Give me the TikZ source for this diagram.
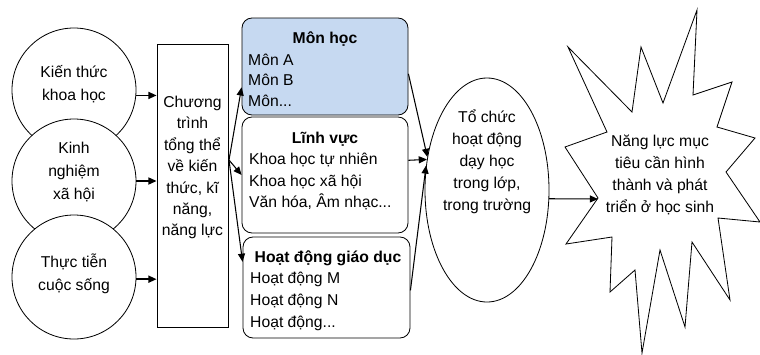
\documentclass[tikz,border=0pt]{standalone}
\usepackage{fontspec}
\setmainfont{Liberation Sans}
\usetikzlibrary{arrows.meta,shapes.geometric}

\definecolor{subjblue}{HTML}{C6D9F1}

\tikzset{
  txt/.style={font=\fontsize{13.4}{#1}\selectfont, align=center, inner sep=0pt},
  txt/.default=18.5pt,
  srcball/.style={draw, line width=0.7pt, fill=white, circle, minimum size=3.72cm, inner sep=0pt},
  topicbox/.style={draw, line width=0.7pt, rounded corners=0.3cm, minimum width=4.98cm},
  item/.style={font=\fontsize{13.4}{16}\selectfont, anchor=base west, inner sep=0pt},
  head/.style={font=\fontsize{13.4}{16}\selectfont\bfseries, anchor=base, inner sep=0pt},
  arr/.style={-{Triangle[length=7pt,width=6pt]}, line width=#1},
  arr/.default=0.9pt
}

\begin{document}
\begin{tikzpicture}[x=0.03cm, y=-0.03cm]
  \useasboundingbox (0,0) rectangle (760,354);

  % three sources, each drawn over the previous one
  \node[srcball] (kt) at (74,90) {};
  \node[srcball] (kn) at (74,181) {};
  \node[srcball] (tt) at (74,277) {};
  \node[txt=20pt] (kt-t) at (74,84) {Kiến thức\\khoa học};
  \node[txt=20pt] (kn-t) at (74,172) {Kinh\\nghiệm\\xã hội};
  \node[txt=20pt] (tt-t) at (74,274) {Thực tiễn\\cuộc sống};

  % overall programme
  \node[draw, line width=0.7pt, minimum width=2.13cm, minimum height=8.49cm] (prog) at (192.5,185.5) {};
  \node[txt=18.3pt] (prog-t) at (192.5,167.5) {Chương\\trình\\tổng thể\\về kiến\\thức, kĩ\\năng,\\năng lực};

  \draw[arr=1.3pt] (kt.-5) -- (kt.-5 -| prog.west);
  \draw[arr=1.3pt] (kn.east) -- (kn.east -| prog.west);
  \draw[arr=1.3pt] (tt.-2) -- (tt.-2 -| prog.west);

  % subjects, fields, activities
  \node[topicbox, fill=subjblue, minimum height=2.91cm] (mon) at (325,66.5) {};
  \node[topicbox, minimum height=3.48cm] (lv) at (325,175) {};
  \node[topicbox, minimum width=5.01cm, minimum height=3.03cm] (hd) at (326.5,287.5) {};

  \node[head] (mon-h) at (325,43) {Môn học};
  \node[item] (mon-1) at (248,65.5) {Môn A};
  \node[item] (mon-2) at (248,85.5) {Môn B};
  \node[item] (mon-3) at (248,106) {Môn...};

  \node[head] (lv-h) at (325,143.5) {Lĩnh vực};
  \node[item] (lv-1) at (249,164) {Khoa học tự nhiên};
  \node[item] (lv-2) at (249,186) {Khoa học xã hội};
  \node[item] (lv-3) at (249,207) {Văn hóa, Âm nhạc...};

  \node[head] (hd-h) at (328,262) {Hoạt động giáo dục};
  \node[item] (hd-1) at (250,283) {Hoạt động M};
  \node[item] (hd-2) at (250,305) {Hoạt động N};
  \node[item] (hd-3) at (250,327) {Hoạt động...};

  \coordinate (fork) at (229,160);
  \draw[arr] (fork) -- (mon.-166);
  \draw[arr] (fork) -- (lv.west);
  \draw[arr] (fork) -- (hd.163);

  % teaching in class and school
  \node[draw, line width=0.7pt, ellipse, minimum width=3.72cm, minimum height=6.72cm, inner sep=0pt] (org) at (487,190) {};
  \node[txt=18.8pt] (org-t) at (487,162) {Tổ chức\\hoạt động\\dạy học\\trong lớp,\\trong trường};

  \draw[arr] (mon.-5) -- (org.151);
  \draw[arr] (lv.10) -- (org.153);
  \draw[arr] (hd.-2) -- (org.158);

  % target competences
  \draw[line width=0.7pt] (568,47) -- (632,112) -- (641,47) -- (663,103) -- (697,10) -- (693,95)
    -- (732,82) -- (717,127) -- (755,138) -- (726,172) -- (760,222) -- (718,218)
    -- (730,300) -- (692,242) -- (685,327) -- (660,250) -- (642,353) -- (635,270)
    -- (610,292) -- (612,237) -- (566,244) -- (598,198) -- (565,147) -- (607,132) -- cycle;
  \coordinate (burst) at (598,199);
  \node[txt=18.8pt] (goal) at (660,175) {Năng lực mục\\tiêu cần hình\\thành và phát\\triển ở học sinh};

  \draw[arr] (org.-8) -- (burst);
\end{tikzpicture}
\end{document}
